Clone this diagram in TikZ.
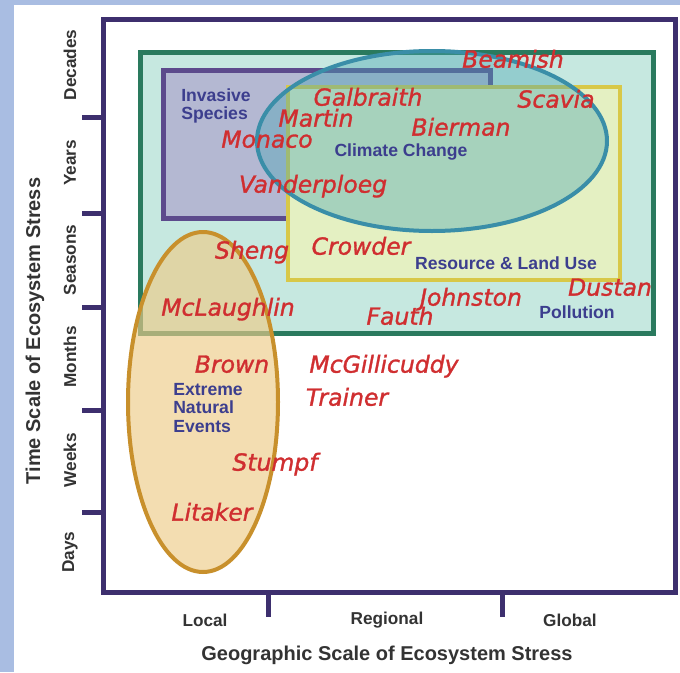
\documentclass[tikz,border=0pt]{standalone}
\usepackage{fontspec}
\setmainfont{Liberation Sans}
\newfontfamily\namefont{DejaVu Sans}[ItalicFont={DejaVu Sans Oblique}, ItalicFeatures={FakeBold=1.3}]
\usetikzlibrary{positioning}
\definecolor{bgblue}{HTML}{A9BDE2}
\definecolor{framepurple}{HTML}{3D2F6E}
\definecolor{axisgray}{HTML}{333333}
\definecolor{namered}{HTML}{D02E30}
\definecolor{labelblue}{HTML}{3C3E8E}
\definecolor{pollgreen}{HTML}{2A7A5E}
\definecolor{pollfill}{HTML}{C6E8E0}
\definecolor{invline}{HTML}{5C4A8C}
\definecolor{invfill}{HTML}{B4B8D2}
\definecolor{resline}{HTML}{D8C848}
\definecolor{resfill}{HTML}{E4F0C2}
\definecolor{climline}{HTML}{3A8EA8}
\definecolor{climfill}{HTML}{4AA6B4}
\definecolor{extline}{HTML}{C8902C}
\definecolor{extfill}{HTML}{EDCB88}
\tikzstyle{frame} = [draw=framepurple, line width=5pt]
\tikzstyle{author} = [text=namered, anchor=mid, inner sep=0pt,
font=\namefont\itshape\fontsize{23.5}{24}\selectfont]
\tikzstyle{stress} = [text=labelblue, inner sep=0pt, align=left,
font=\bfseries\fontsize{17.6}{18.5}\selectfont]

\begin{document}
\begin{tikzpicture}[x=1pt, y=-1pt,
	axislabel/.style={text=axisgray, inner sep=0pt, font=\bfseries\fontsize{17.2}{17}\selectfont},
	axistitle/.style={text=axisgray, inner sep=0pt, font=\bfseries\fontsize{20}{20}\selectfont}]
	\useasboundingbox (0,0) rectangle (680,672);
	\fill[bgblue] (0,0) rectangle (680,672);
	\fill[white] (14,5) rectangle (680,672);
	%% Stress regions
	\draw[draw=pollgreen, fill=pollfill, line width=5pt] (140,52) rectangle (653,333);
	\draw[draw=invline, fill=invfill, line width=5pt] (163,70) rectangle (490,218);
	\draw[draw=resline, fill=resfill, line width=4pt] (288,87) rectangle (620,280);
	\draw[draw=climline, fill=climfill, fill opacity=0.4, line width=4pt] (432,141) ellipse (175 and 90);
	\draw[draw=extline, fill=extfill, fill opacity=0.65, line width=4pt] (203,402) ellipse (75 and 170);
	%% Axes
	\draw[frame] (103,19) rectangle (675,592);
	\foreach \y in {117,213,307,410,512}
		\draw[frame] (82,\y) -- (103,\y);
	\foreach \x in {268,502}
		\draw[frame] (\x,592) -- (\x,617);
	\foreach \t/\y in {Decades/65, Years/163, Seasons/260, Months/357, Weeks/460, Days/552}
		\node[axislabel, rotate=90] (\t) at (70,\y) {\t};
	\foreach \t/\x in {Local/205, Regional/387, Global/570}
		\node[axislabel] (\t) at (\x,620) {\t};
	\node[axistitle, rotate=90] (TimeTitle) at (35,331) {Time Scale of Ecosystem Stress};
	\node[axistitle] (GeoTitle) at (387,655) {Geographic Scale of Ecosystem Stress};
	%% Stress labels
	\node[stress] (Invasive) at (216,106) {Invasive\\Species};
	\node[stress] (Climate) at (401,152) {Climate Change};
	\node[stress] (Resource) at (506,263) {Resource \& Land Use};
	\node[stress] (Pollution) at (577,312) {Pollution};
	\node[stress] (Extreme) at (208,408) {Extreme\\Natural\\Events};
	%% Authors
	\node[author] (Beamish) at (513,65) {Beamish};
	\node[author] (Scavia) at (556,105) {Scavia};
	\node[author] (Galbraith) at (368,103) {Galbraith};
	\node[author] (Martin) at (316,124) {Martin};
	\node[author] (Bierman) at (461,133) {Bierman};
	\node[author] (Monaco) at (267,145) {Monaco};
	\node[author] (Vanderploeg) at (313,190) {Vanderploeg};
	\node[author] (Sheng) at (252,256) {Sheng};
	\node[author] (Crowder) at (361,252) {Crowder};
	\node[author] (McLaughlin) at (228,313) {McLaughlin};
	\node[author] (Johnston) at (471,303) {Johnston};
	\node[author] (Fauth) at (400,322) {Fauth};
	\node[author] (Dustan) at (610,293) {Dustan};
	\node[author] (Brown) at (232,370) {Brown};
	\node[author] (McGillicuddy) at (384,370) {McGillicuddy};
	\node[author] (Trainer) at (347,403) {Trainer};
	\node[author] (Stumpf) at (275,468) {Stumpf};
	\node[author] (Litaker) at (212,518) {Litaker};
\end{tikzpicture}
\end{document}
